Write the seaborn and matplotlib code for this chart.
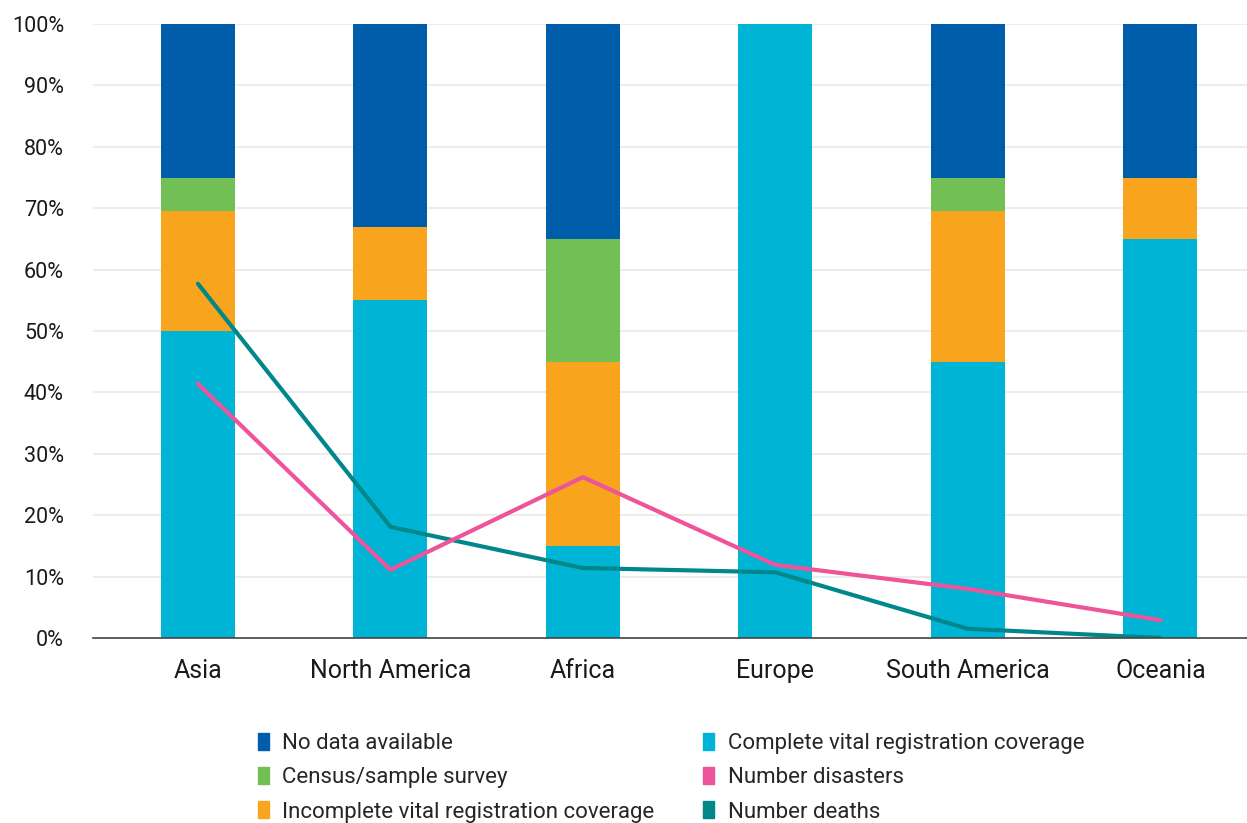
import numpy as np
import pandas as pd
import seaborn as sns
from matplotlib import pyplot as plt
from matplotlib.patches import Patch
from matplotlib.ticker import PercentFormatter

regions = ['Asia', 'North America', 'Africa', 'Europe', 'South America', 'Oceania']

# stacked shares (%), bottom to top
complete_vr = [50, 55, 15, 100, 45, 65]
incomplete_vr = [19.5, 12, 30, 0, 24.5, 10]
census = [5.5, 0, 20, 0, 5.5, 0]
no_data = [25, 33, 35, 0, 25, 25]

# line series (%)
num_disasters = [41.4, 11.1, 26.2, 11.9, 8.0, 2.9]
num_deaths = [57.7, 18.1, 11.4, 10.7, 1.5, 0.0]

c_nodata = '#005DAA'
c_census = '#72BF55'
c_incomplete = '#F8A51D'
c_complete = '#00B4D6'
c_disasters = '#EE5499'
c_deaths = '#00878A'

sns.set_style('white')
plt.rcParams['font.family'] = ['Roboto', 'DejaVu Sans']

df = pd.DataFrame({'region': regions, 'complete': complete_vr,
                   'incomplete': incomplete_vr, 'census': census,
                   'nodata': no_data})

fig = plt.figure(figsize=(12.47, 8.23), dpi=100)
ax = fig.add_axes([0.0746, 0.2248, 0.9254, 0.746])

bottom = np.zeros(len(regions))
for col, color in [('complete', c_complete), ('incomplete', c_incomplete),
                   ('census', c_census), ('nodata', c_nodata)]:
    sns.barplot(data=df, x='region', y=col, color=color, width=0.385,
                bottom=bottom, ax=ax, saturation=1, linewidth=0)
    bottom = bottom + df[col].values

xpos = np.arange(len(regions))
sns.lineplot(x=xpos, y=num_deaths, color=c_deaths, linewidth=3, ax=ax)
sns.lineplot(x=xpos, y=num_disasters, color=c_disasters, linewidth=3, ax=ax)

ax.set_ylim(0, 100)
ax.set_xlim(-0.545, 5.45)
ax.set_yticks(np.arange(0, 101, 10))
ax.yaxis.set_major_formatter(PercentFormatter(decimals=0))
ax.set_xticks(xpos)
ax.set_xticklabels(regions)
ax.set_xlabel('')
ax.set_ylabel('')
ax.grid(axis='y', color='#e9e9e9', linewidth=1.2)
ax.set_axisbelow(True)
for s in ['top', 'right', 'left']:
    ax.spines[s].set_visible(False)
ax.spines['bottom'].set_color('#444444')
ax.spines['bottom'].set_linewidth(1.2)
ax.tick_params(axis='y', labelsize=15.5, length=0, pad=21, colors='#1a1a1a')
ax.tick_params(axis='x', labelsize=18, length=0, pad=15, colors='#1a1a1a')

handles = [Patch(color=c_nodata), Patch(color=c_census), Patch(color=c_incomplete),
           Patch(color=c_complete), Patch(color=c_disasters), Patch(color=c_deaths)]
labels = ['No data available', 'Census/sample survey',
          'Incomplete vital registration coverage',
          'Complete vital registration coverage', 'Number disasters',
          'Number deaths']
fig.legend(handles, labels, ncol=2, frameon=False, fontsize=16,
           loc='upper left', bbox_to_anchor=(0.1996, 0.12),
           handlelength=0.5, handleheight=0.8, handletextpad=0.6,
           columnspacing=2.2, labelspacing=0.58, borderaxespad=0)

fig.savefig('out.png', dpi=100)
